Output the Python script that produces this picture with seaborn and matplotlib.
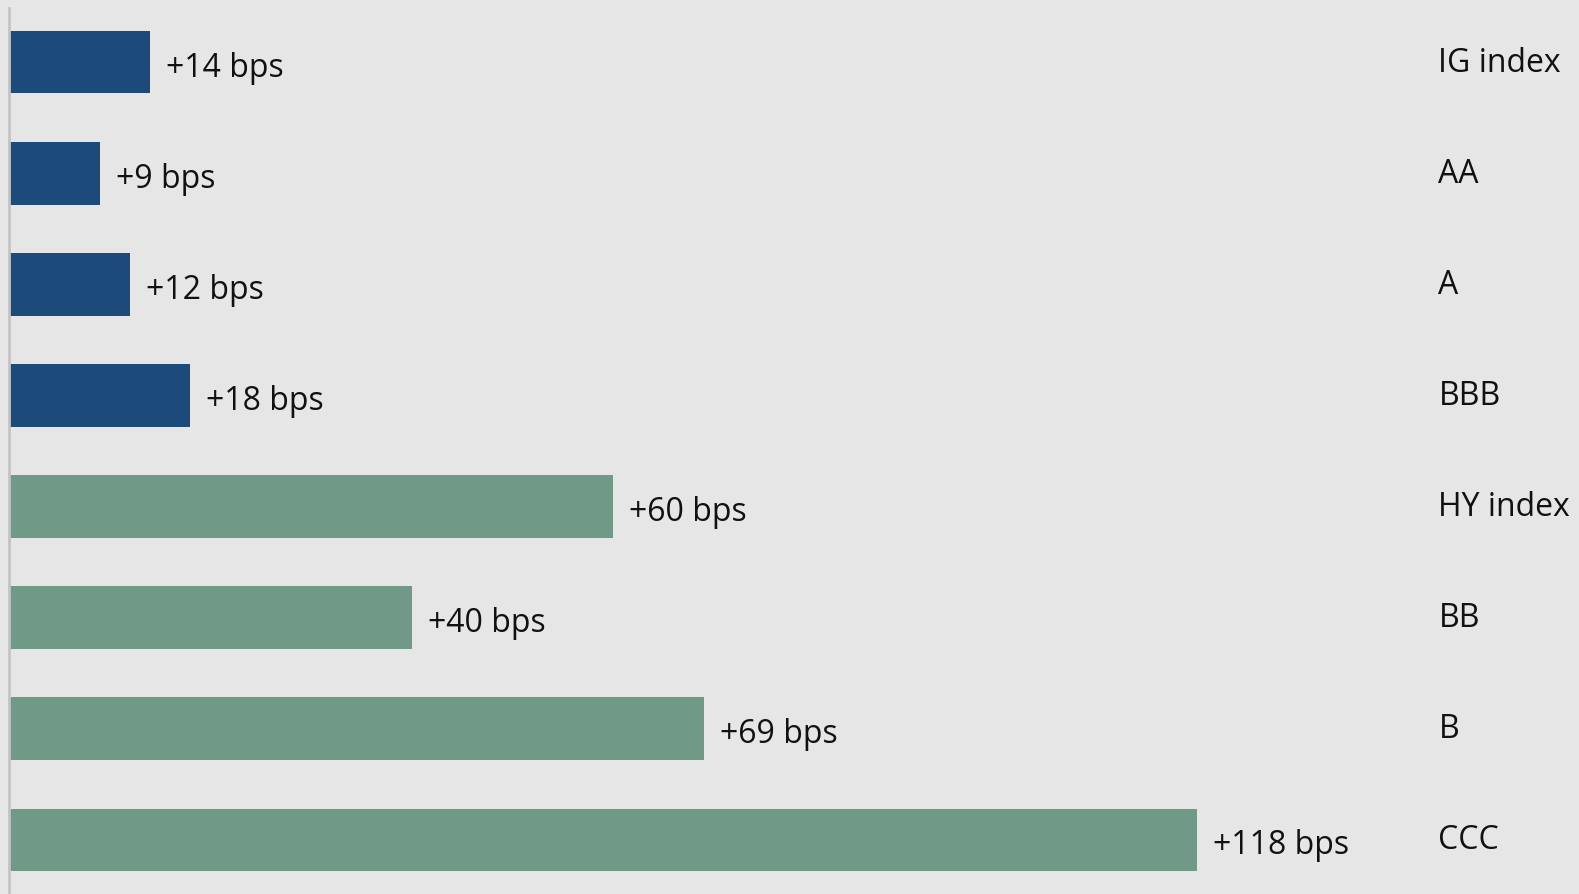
import seaborn as sns
import matplotlib.pyplot as plt
import pandas as pd

# spread widening by rating bucket
categories = ['IG index', 'AA', 'A', 'BBB', 'HY index', 'BB', 'B', 'CCC']
values = [14, 9, 12, 18, 60, 40, 69, 118]
groups = ['IG', 'IG', 'IG', 'IG', 'HY', 'HY', 'HY', 'HY']

df = pd.DataFrame({'rating': categories, 'bps': values, 'group': groups})

sns.set_style('white')
plt.rcParams['font.family'] = ['Open Sans', 'DejaVu Sans']

bg = '#e6e6e6'
fig = plt.figure(figsize=(15.79, 8.94), dpi=100, facecolor=bg)
ax = fig.add_axes([9 / 1579, 0, (1425 - 9) / 1579, 1 - 8 / 894])
ax.set_facecolor(bg)

sns.barplot(data=df, x='bps', y='rating', hue='group', dodge=False,
            palette={'IG': '#1c4a7a', 'HY': '#709a87'}, width=0.56,
            legend=False, ax=ax, saturation=1, linewidth=0)

ax.set_xlim(0, (1425 - 9) / 10.07)
ax.set_ylim(7.49, -0.49)

# value labels next to the bars
for i, v in enumerate(values):
    ax.text(v + 1.6, i + 0.055, f'+{v} bps', va='center', ha='left',
            fontsize=23, color='#111111')

# category labels at the right
ax.set_yticks([])
for i, c in enumerate(categories):
    ax.text(1.0095, i + 0.01, c, transform=ax.get_yaxis_transform(),
            va='center', ha='left', fontsize=23, color='#111111')

ax.set_xticks([])
ax.set_xlabel('')
ax.set_ylabel('')
for s in ['top', 'right', 'bottom']:
    ax.spines[s].set_visible(False)
ax.spines['left'].set_color('#c4c4c4')
ax.spines['left'].set_linewidth(2)

fig.savefig('out.png', dpi=100, facecolor=bg)
